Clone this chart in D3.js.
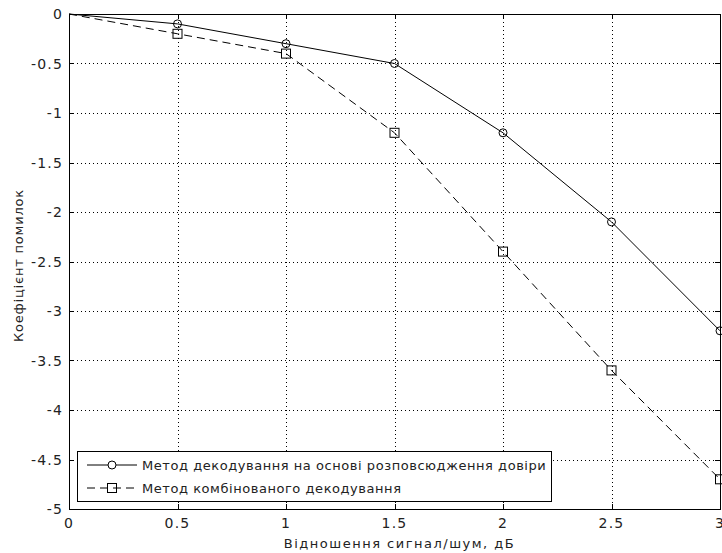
<!DOCTYPE html>
<html>
<head>
<meta charset="utf-8">
<script src="https://cdn.jsdelivr.net/npm/d3@7"></script>
<style>
  body { margin: 0; background: #fff; }
  svg { display: block; font-family: "DejaVu Sans", Arial, sans-serif; }
  text { fill: #222; font-size: 13px; }
  .tick-label { font-size: 14px; letter-spacing: 1.2px; }
</style>
</head>
<body>
<div id="chart"></div>
<script>
const snr = [0, 0.5, 1, 1.5, 2, 2.5, 3];
const beliefProp = [0, -0.1, -0.3, -0.5, -1.2, -2.1, -3.2];
const combined = [0, -0.2, -0.4, -1.2, -2.4, -3.6, -4.7];
const xTicks = [0, 0.5, 1, 1.5, 2, 2.5, 3];
const yTicks = [0, -0.5, -1, -1.5, -2, -2.5, -3, -3.5, -4, -4.5, -5];
const seriesNames = ["Метод декодування на основі розповсюдження довіри", "Метод комбінованого декодування"];

const width = 722, height = 553;
const margin = { top: 14, right: 2, bottom: 44, left: 69 };

const svg = d3.select("#chart").append("svg").attr("width", width).attr("height", height);

const x = d3.scaleLinear().domain([0, 3]).range([margin.left, width - margin.right]);
const y = d3.scaleLinear().domain([-5, 0]).range([height - margin.bottom, margin.top]);
const x0 = x.range()[0], x1 = x.range()[1], y0 = y.range()[0], y1 = y.range()[1];

// dotted grid
const grid = svg.append("g").attr("stroke", "#000").attr("stroke-width", 1).attr("stroke-dasharray", "1,3");
grid.selectAll("line.gx").data(xTicks.slice(1, -1)).join("line")
  .attr("x1", d => Math.round(x(d)) + 0.5).attr("x2", d => Math.round(x(d)) + 0.5)
  .attr("y1", y1).attr("y2", y0);
grid.selectAll("line.gy").data(yTicks.slice(1, -1)).join("line")
  .attr("y1", d => Math.round(y(d)) + 0.5).attr("y2", d => Math.round(y(d)) + 0.5)
  .attr("x1", x0).attr("x2", x1);

// axes, ticks inward on all sides
const ax = svg.append("g").attr("stroke", "#000").attr("shape-rendering", "crispEdges");
ax.append("rect").attr("x", x0).attr("y", y1).attr("width", x1 - x0).attr("height", y0 - y1)
  .attr("fill", "none");
const tl = 5;
xTicks.forEach(t => {
  const px = Math.round(x(t));
  ax.append("line").attr("x1", px).attr("x2", px).attr("y1", y0).attr("y2", y0 - tl);
  ax.append("line").attr("x1", px).attr("x2", px).attr("y1", y1).attr("y2", y1 + tl);
});
yTicks.forEach(t => {
  const py = Math.round(y(t));
  ax.append("line").attr("y1", py).attr("y2", py).attr("x1", x0).attr("x2", x0 + tl);
  ax.append("line").attr("y1", py).attr("y2", py).attr("x1", x1).attr("x2", x1 - tl);
});

// the last x label is cut by the window edge in the reference too
svg.append("g").selectAll("text").data(xTicks).join("text")
  .attr("class", "tick-label")
  .attr("x", d => x(d)).attr("y", y0 + 19).attr("text-anchor", "middle")
  .text(d => d3.format("")(d));
svg.append("g").selectAll("text").data(yTicks).join("text")
  .attr("class", "tick-label")
  .attr("x", x0 - 6).attr("y", d => y(d) + 5).attr("text-anchor", "end")
  .text(d => d === 0 ? "0" : d3.format("")(d).replace("−", "-"));

svg.append("text").attr("x", (x0 + x1) / 2 + 5).attr("y", 548).attr("text-anchor", "middle")
  .attr("letter-spacing", 1.5).text("Відношення сигнал/шум, дБ");
svg.append("text").attr("transform", `translate(23,${(y0 + y1) / 2 + 4}) rotate(-90)`)
  .attr("text-anchor", "middle").attr("letter-spacing", 0.8).text("Коефіцієнт помилок");

// series
const line = d3.line().x(d => x(d[0])).y(d => y(d[1]));
const s1 = snr.map((v, i) => [v, beliefProp[i]]);
const s2 = snr.map((v, i) => [v, combined[i]]);

svg.append("path").attr("d", line(s1)).attr("fill", "none").attr("stroke", "#000").attr("stroke-width", 1);
svg.append("path").attr("d", line(s2)).attr("fill", "none").attr("stroke", "#000").attr("stroke-width", 1)
  .attr("stroke-dasharray", "8,5");

svg.append("g").selectAll("circle").data(s1.slice(1)).join("circle")
  .attr("cx", d => x(d[0])).attr("cy", d => y(d[1])).attr("r", 4)
  .attr("fill", "none").attr("stroke", "#000");
svg.append("g").selectAll("rect").data(s2.slice(1)).join("rect")
  .attr("x", d => x(d[0]) - 4.5).attr("y", d => y(d[1]) - 4.5).attr("width", 9).attr("height", 9)
  .attr("fill", "none").attr("stroke", "#000");

// legend
const lg = svg.append("g");
lg.append("rect").attr("x", 77.5).attr("y", 451.5).attr("width", 474).attr("height", 50)
  .attr("fill", "#fff").attr("stroke", "#000");
const rows = [465, 488];
lg.append("line").attr("x1", 87).attr("x2", 137).attr("y1", rows[0]).attr("y2", rows[0]).attr("stroke", "#000");
lg.append("circle").attr("cx", 112).attr("cy", rows[0]).attr("r", 4).attr("fill", "#fff").attr("stroke", "#000");
lg.append("line").attr("x1", 87).attr("x2", 137).attr("y1", rows[1]).attr("y2", rows[1]).attr("stroke", "#000")
  .attr("stroke-dasharray", "8,5");
lg.append("rect").attr("x", 107.5).attr("y", rows[1] - 4.5).attr("width", 9).attr("height", 9)
  .attr("fill", "none").attr("stroke", "#000");
lg.selectAll("text").data(seriesNames).join("text")
  .attr("x", 142).attr("y", (d, i) => rows[i] + 5).attr("letter-spacing", 0.55).text(d => d);
</script>
</body>
</html>
